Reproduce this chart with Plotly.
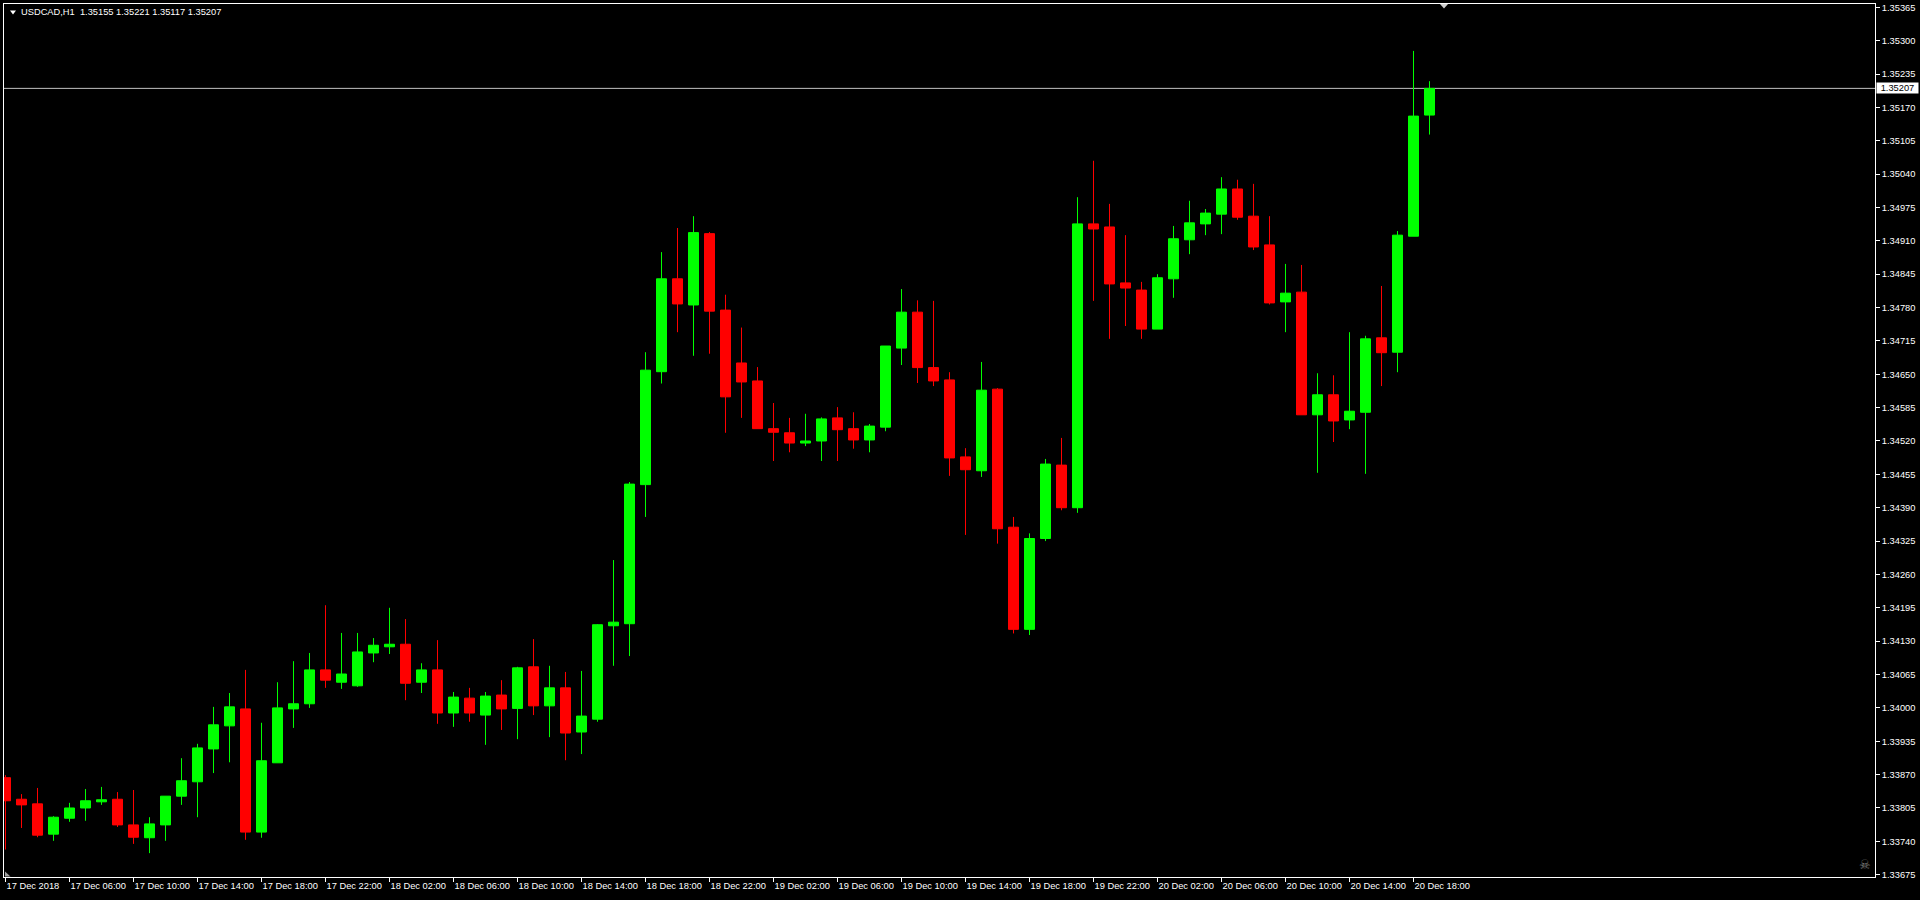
import plotly.graph_objects as go

# ---------------- data ----------------
symbol = "USDCAD,H1"

opens = [1.33864, 1.33822, 1.33813, 1.33754, 1.33785, 1.33805, 1.33817, 1.33822, 1.33772, 1.33747,
         1.33772, 1.33828, 1.33856, 1.33920, 1.33965, 1.33998, 1.33758, 1.33893, 1.33998, 1.34008,
         1.34074, 1.34050, 1.34043, 1.34107, 1.34119, 1.34124, 1.34050, 1.34074, 1.33990, 1.34019,
         1.33986, 1.34025, 1.33999, 1.34080, 1.34004, 1.34039, 1.33953, 1.33978, 1.34160, 1.34164,
         1.34435, 1.34655, 1.34836, 1.34785, 1.34924, 1.34775, 1.34672, 1.34637, 1.34544, 1.34536,
         1.34516, 1.34520, 1.34565, 1.34544, 1.34522, 1.34547, 1.34701, 1.34771, 1.34663, 1.34639,
         1.34489, 1.34462, 1.34621, 1.34352, 1.34153, 1.34330, 1.34473, 1.34390, 1.34943, 1.34937,
         1.34828, 1.34814, 1.34738, 1.34836, 1.34912, 1.34943, 1.34962, 1.35011, 1.34958, 1.34902,
         1.34791, 1.34810, 1.34571, 1.34610, 1.34561, 1.34576, 1.34721, 1.34693, 1.34919, 1.35155]

highs = [1.33869, 1.33832, 1.33844, 1.33789, 1.33815, 1.33842, 1.33846, 1.33836, 1.33840, 1.33787,
         1.33828, 1.33902, 1.33930, 1.34002, 1.34029, 1.34074, 1.33971, 1.34050, 1.34091, 1.34107,
         1.34200, 1.34146, 1.34146, 1.34136, 1.34195, 1.34173, 1.34087, 1.34132, 1.34031, 1.34039,
         1.34031, 1.34054, 1.34080, 1.34134, 1.34082, 1.34070, 1.34072, 1.34163, 1.34288, 1.34440,
         1.34693, 1.34888, 1.34935, 1.34958, 1.34927, 1.34805, 1.34741, 1.34664, 1.34594, 1.34565,
         1.34573, 1.34566, 1.34586, 1.34576, 1.34553, 1.34705, 1.34816, 1.34794, 1.34793, 1.34654,
         1.34506, 1.34674, 1.34623, 1.34372, 1.34340, 1.34485, 1.34526, 1.34995, 1.35066, 1.34982,
         1.34921, 1.34830, 1.34845, 1.34939, 1.34988, 1.34972, 1.35034, 1.35029, 1.35021, 1.34958,
         1.34865, 1.34863, 1.34652, 1.34648, 1.34732, 1.34725, 1.34822, 1.34929, 1.35280, 1.35221]

lows = [1.33724, 1.33766, 1.33748, 1.33741, 1.33778, 1.33780, 1.33811, 1.33768, 1.33735, 1.33717,
        1.33741, 1.33811, 1.33787, 1.33873, 1.33894, 1.33743, 1.33747, 1.33893, 1.33961, 1.34000,
        1.34039, 1.34037, 1.34041, 1.34089, 1.34105, 1.34015, 1.34029, 1.33969, 1.33963, 1.33973,
        1.33928, 1.33957, 1.33939, 1.33986, 1.33943, 1.33898, 1.33910, 1.33973, 1.34082, 1.34101,
        1.34372, 1.34632, 1.34732, 1.34686, 1.34690, 1.34536, 1.34565, 1.34544, 1.34481, 1.34498,
        1.34510, 1.34481, 1.34481, 1.34505, 1.34498, 1.34539, 1.34668, 1.34633, 1.34627, 1.34452,
        1.34337, 1.34450, 1.34320, 1.34145, 1.34142, 1.34325, 1.34385, 1.34380, 1.34793, 1.34719,
        1.34744, 1.34719, 1.34738, 1.34799, 1.34884, 1.34921, 1.34923, 1.34951, 1.34892, 1.34786,
        1.34732, 1.34571, 1.34458, 1.34518, 1.34543, 1.34456, 1.34627, 1.34654, 1.34919, 1.35117]

closes = [1.33819, 1.33811, 1.33752, 1.33787, 1.33805, 1.33819, 1.33821, 1.33772, 1.33748, 1.33774,
          1.33828, 1.33858, 1.33922, 1.33967, 1.34002, 1.33758, 1.33897, 1.34000, 1.34008, 1.34074,
          1.34054, 1.34066, 1.34109, 1.34122, 1.34124, 1.34048, 1.34074, 1.33990, 1.34021, 1.33990,
          1.34023, 1.33998, 1.34078, 1.34004, 1.34039, 1.33951, 1.33984, 1.34162, 1.34167, 1.34436,
          1.34658, 1.34836, 1.34787, 1.34926, 1.34773, 1.34606, 1.34635, 1.34544, 1.34537, 1.34516,
          1.34520, 1.34563, 1.34542, 1.34522, 1.34549, 1.34705, 1.34771, 1.34663, 1.34637, 1.34487,
          1.34464, 1.34619, 1.34349, 1.34153, 1.34330, 1.34475, 1.34390, 1.34943, 1.34933, 1.34826,
          1.34818, 1.34738, 1.34838, 1.34914, 1.34945, 1.34964, 1.35011, 1.34956, 1.34898, 1.34789,
          1.34808, 1.34571, 1.34610, 1.34559, 1.34578, 1.34719, 1.34692, 1.34921, 1.35153, 1.35207]

# bars carrying a time label (every 4th hourly bar, first bar = 17 Dec 02:00)
x_tick_bars = [0, 4, 8, 12, 16, 20, 24, 28, 32, 36, 40, 44, 48, 52, 56, 60, 64, 68, 72, 76, 80, 84, 88]
x_tick_labels = ["17 Dec 2018", "17 Dec 06:00", "17 Dec 10:00", "17 Dec 14:00", "17 Dec 18:00",
                 "17 Dec 22:00", "18 Dec 02:00", "18 Dec 06:00", "18 Dec 10:00", "18 Dec 14:00",
                 "18 Dec 18:00", "18 Dec 22:00", "19 Dec 02:00", "19 Dec 06:00", "19 Dec 10:00",
                 "19 Dec 14:00", "19 Dec 18:00", "19 Dec 22:00", "20 Dec 02:00", "20 Dec 06:00",
                 "20 Dec 10:00", "20 Dec 14:00", "20 Dec 18:00"]

y_tick_labels = ["1.33675", "1.33740", "1.33805", "1.33870", "1.33935", "1.34000", "1.34065",
                 "1.34130", "1.34195", "1.34260", "1.34325", "1.34390", "1.34455", "1.34520",
                 "1.34585", "1.34650", "1.34715", "1.34780", "1.34845", "1.34910", "1.34975",
                 "1.35040", "1.35105", "1.35170", "1.35235", "1.35300", "1.35365"]

# ---------------- figure ----------------
W, H = 1920, 900
ML, MR, MT, MB = 4, 45, 4, 23
PW, PH = W - ML - MR, H - MT - MB
FONT = "Liberation Sans, Arial, sans-serif"
FS = 9.3


def pxx(px):
    return (px - ML) / PW


def pxy(py):
    return (H - MB - py) / PH


bar_x = list(range(len(opens)))

fig = go.Figure()
fig.add_trace(go.Candlestick(
    x=bar_x, open=opens, high=highs, low=lows, close=closes,
    increasing=dict(line=dict(color="#00FF00", width=1), fillcolor="#00FF00"),
    decreasing=dict(line=dict(color="#FF0000", width=1), fillcolor="#FF0000"),
    whiskerwidth=0, hoverinfo="skip", showlegend=False,
))

last_o, last_h, last_l, last_c = opens[-1], highs[-1], lows[-1], closes[-1]

shapes = [
    # current price line
    dict(type="line", xref="paper", x0=0, x1=1, yref="y", y0=last_c, y1=last_c,
         line=dict(color="#C0C0C0", width=1), layer="below"),
    # small menu triangle at top-left
    dict(type="path", xref="paper", yref="paper",
         path="M {a},{b} L {c},{b} L {d},{e} Z".format(a=pxx(10), b=pxy(10.5), c=pxx(16), d=pxx(13), e=pxy(14.5)),
         fillcolor="white", line=dict(width=0)),
    # chart-shift marker at the top border
    dict(type="path", xref="paper", yref="paper",
         path="M {a},{b} L {c},{b} L {d},{e} Z".format(a=pxx(1440), b=pxy(4), c=pxx(1448), d=pxx(1444), e=pxy(8.5)),
         fillcolor="#D0D0D0", line=dict(width=0)),
    # tiny grey corner triangle at bottom-left
    dict(type="path", xref="paper", yref="paper",
         path="M {a},{b} L {a},{c} L {d},{c} Z".format(a=pxx(5), b=pxy(871.5), c=pxy(876.5), d=pxx(10.5)),
         fillcolor="#A0A0A0", line=dict(width=0)),
]

annotations = [
    dict(xref="paper", yref="paper", x=pxx(19), y=pxy(12.5), xanchor="left", yanchor="middle",
         text="{}\u00a0 {:.5f} {:.5f} {:.5f} {:.5f}".format(symbol, last_o, last_h, last_l, last_c),
         showarrow=False, font=dict(family=FONT, size=FS, color="white")),
    dict(xref="paper", yref="y", x=1, y=last_c, xanchor="left", yanchor="middle", xshift=1,
         text="{:.5f}".format(last_c), showarrow=False, bgcolor="white",
         width=39, height=8, borderpad=1, align="center",
         font=dict(family=FONT, size=FS, color="black")),
    dict(xref="paper", yref="paper", x=pxx(1864.5), y=pxy(864.5), xanchor="center", yanchor="middle",
         text="\u2620", showarrow=False, font=dict(family="DejaVu Sans", size=13, color="#7a7a7a")),
]

fig.update_layout(
    width=W, height=H, autosize=False,
    margin=dict(l=ML, r=MR, t=MT, b=MB, pad=0),
    paper_bgcolor="black", plot_bgcolor="black",
    font=dict(family=FONT, size=FS, color="white"),
    showlegend=False,
    boxgap=0.375, boxgroupgap=0,
    shapes=shapes, annotations=annotations,
    xaxis=dict(
        range=[-1.5 / 16, -1.5 / 16 + PW / 16.0],
        rangeslider=dict(visible=False),
        showgrid=False, zeroline=False, automargin=False,
        showline=True, linecolor="white", linewidth=1, mirror=True,
        ticks="outside", ticklen=4, tickcolor="white", tickwidth=1,
        tickvals=x_tick_bars, ticktext=x_tick_labels, tickangle=0,
        ticklabelposition="outside right",
        tickfont=dict(family=FONT, size=FS, color="white"),
        fixedrange=True,
    ),
    yaxis=dict(
        side="right",
        range=[1.336705, 1.353714],
        showgrid=False, zeroline=False, automargin=False,
        showline=True, linecolor="white", linewidth=1, mirror=True,
        ticks="outside", ticklen=4, tickcolor="white", tickwidth=1,
        tickvals=[float(v) for v in y_tick_labels], ticktext=y_tick_labels,
        tickfont=dict(family=FONT, size=FS, color="white"),
        fixedrange=True,
    ),
)

fig.write_html("out.html", config={"displayModeBar": False},
               post_script="document.body.style.margin='0';document.body.style.overflow='hidden';")
